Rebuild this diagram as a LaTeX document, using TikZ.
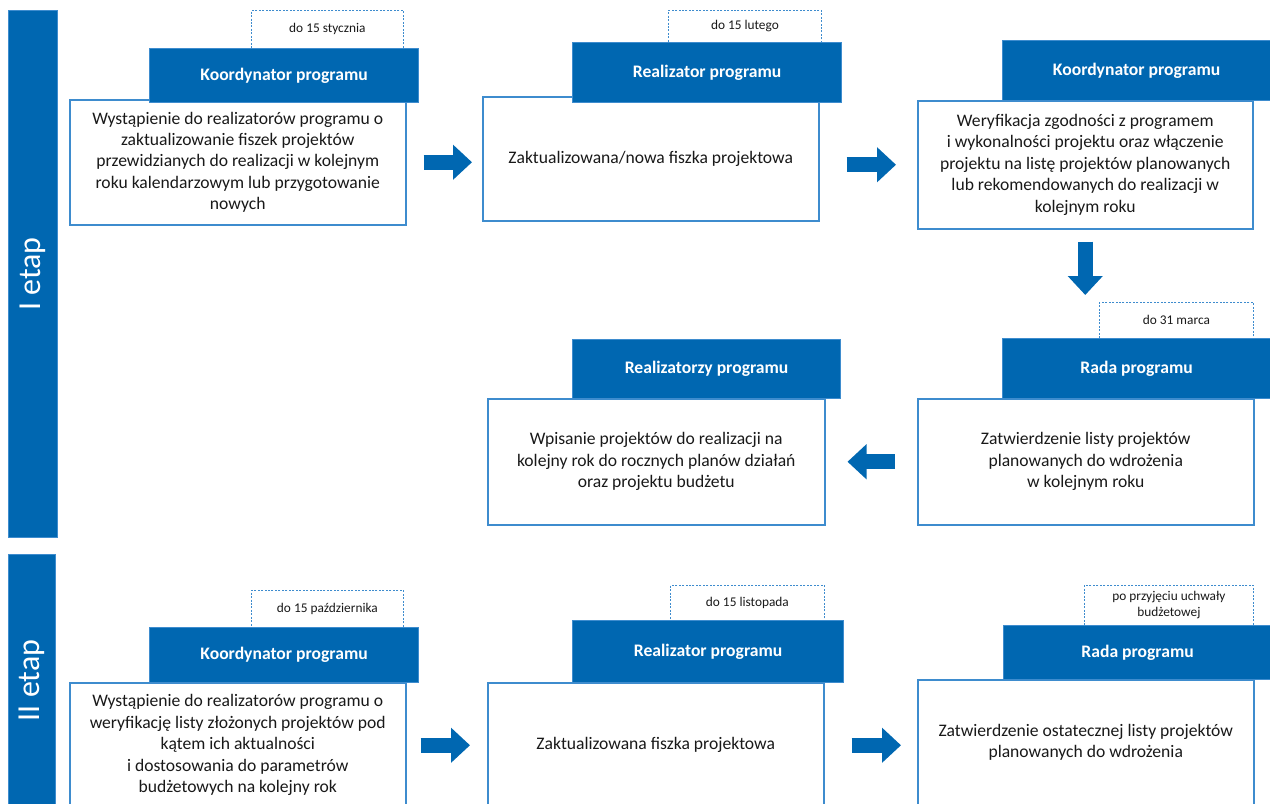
\documentclass[tikz,border=0pt]{standalone}
\usepackage{fontspec}
\setmainfont{Carlito}
\usetikzlibrary{arrows.meta}
\definecolor{progblue}{RGB}{0,103,177}
\definecolor{edgeblue}{RGB}{62,140,206}
\definecolor{bodytext}{RGB}{25,25,25}
\newlength{\px}
\setlength{\px}{0.75pt}
\tikzset{
  etapbar/.style={anchor=north west, fill=progblue, draw=edgeblue, line width=1\px, text=white, inner sep=0pt},
  actor/.style={anchor=north west, fill=progblue, draw=edgeblue, line width=1.2\px, text=white,
    minimum width=269\px, font=\fontsize{13.2}{15}\selectfont\bfseries, inner sep=0pt},
  task/.style={anchor=north west, fill=white, draw=edgeblue, line width=1.5\px, text=bodytext,
    align=center, minimum width=336\px, font=\fontsize{13.2}{16.1}\selectfont, inner sep=0pt},
  deadline/.style={anchor=north west, fill=white, draw=edgeblue, dashed, dash pattern=on 1.5pt off 1.1pt,
    line width=0.6pt, text=bodytext, align=center, font=\fontsize{10}{12}\selectfont, inner sep=0pt},
  fatarrow/.style={draw=progblue, line width=11.25pt, -{Triangle[length=14.25pt, width=25.5pt]}}
}

\begin{document}
\begin{tikzpicture}[x=0.75pt,y=-0.75pt]
\useasboundingbox (0,0) rectangle (1270,803);

% ETAPY
\node[etapbar, minimum width=49\px, minimum height=527\px] (E1) at (8,10) {};
\node[rotate=90, text=white, font=\fontsize{24}{28}\selectfont] (L1) at (E1.center) {I etap};
\node[etapbar, minimum width=47\px, minimum height=260\px] (E2) at (8,554) {};
\node[rotate=90, text=white, font=\fontsize{24}{28}\selectfont] (L2) at ([yshift=3pt]E2.center) {II etap};

% I ETAP
\node[task, minimum height=125\px] (T1) at (69,99) {Wystąpienie do realizatorów programu o\\ zaktualizowanie fiszek projektów\\ przewidzianych do realizacji w kolejnym\\ roku kalendarzowym lub przygotowanie\\ nowych};
\node[deadline, minimum width=152\px, minimum height=38\px] (D1) at (251,10) {do 15 stycznia};
\node[actor, minimum height=54\px] (R1) at (149,48) {Koordynator programu};

\node[task, minimum height=124\px] (T2) at (482,96) {Zaktualizowana/nowa fiszka projektowa};
\node[deadline, minimum width=153\px, minimum height=32\px] (D2) at (668,10) {do 15 lutego};
\node[actor, minimum height=60\px] (R2) at (572,42) {Realizator programu};

\node[task, minimum height=128\px, minimum width=335\px] (T3) at (917,100) {Weryfikacja zgodności z programem\\ i wykonalności projektu oraz włączenie\\ projektu na listę projektów planowanych\\ lub rekomendowanych do realizacji w\\ kolejnym roku};
\node[actor, minimum height=60\px, minimum width=268\px] (R3) at (1002,40) {Koordynator programu};

\node[task, minimum height=126\px] (T4) at (917,398) {Zatwierdzenie listy projektów\\ planowanych do wdrożenia\\ w kolejnym roku};
\node[deadline, minimum width=154\px, minimum height=36\px] (D4) at (1099,302) {do 31 marca};
\node[actor, minimum height=60\px, minimum width=268\px] (R4) at (1002,338) {Rada programu};

\node[task, minimum height=126\px, minimum width=337\px] (T5) at (487,398) {Wpisanie projektów do realizacji na\\ kolejny rok do rocznych planów działań\\ oraz projektu budżetu};
\node[actor, minimum height=59\px, minimum width=268\px] (R5) at (572,339) {Realizatorzy programu};

% II ETAP
\node[task, minimum height=125\px] (T6) at (69,682) {Wystąpienie do realizatorów programu o\\ weryfikację listy złożonych projektów pod\\ kątem ich aktualności\\ i dostosowania do parametrów\\ budżetowych na kolejny rok};
\node[deadline, minimum width=152\px, minimum height=37\px] (D6) at (251,590) {do 15 października};
\node[actor, minimum height=55\px] (R6) at (149,627) {Koordynator programu};

\node[task, minimum height=125\px] (T7) at (487,682) {Zaktualizowana fiszka projektowa};
\node[deadline, minimum width=154\px, minimum height=35\px] (D7) at (670,585) {do 15 listopada};
\node[actor, minimum height=62\px, minimum width=271\px] (R7) at (572,620) {Realizator programu};

\node[task, minimum height=125\px] (T8) at (917,679) {Zatwierdzenie ostatecznej listy projektów\\ planowanych do wdrożenia};
\node[deadline, minimum width=169\px, minimum height=40\px] (D8) at (1084,585) {po przyjęciu uchwały\\ budżetowej};
\node[actor, minimum height=54\px, minimum width=268\px] (R8) at (1003,625) {Rada programu};

% STRZALKI
\draw[fatarrow, shorten <=12.75pt, shorten >=7.5pt] (T1.east) -- (T1.east -| T2.west);
\draw[fatarrow, shorten <=20.25pt, shorten >=15.75pt] (T2.east |- T3.west) -- (T3.west);
\draw[fatarrow, shorten <=9pt, shorten >=5.25pt] (T3.south) -- (T3.south |- D4.north);
\draw[fatarrow, shorten <=16.5pt, shorten >=16.5pt] (T4.west) -- (T4.west -| T5.east);
\draw[fatarrow, shorten <=10.5pt, shorten >=12.75pt] (T6.east) -- (T6.east -| T7.west);
\draw[fatarrow, shorten <=20.25pt, shorten >=12pt] (T7.east) -- (T7.east -| T8.west);

\end{tikzpicture}
\end{document}
